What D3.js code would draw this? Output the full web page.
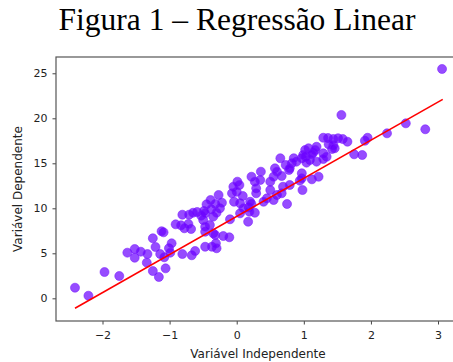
<!DOCTYPE html>
<html>
<head>
<meta charset="utf-8">
<script src="https://cdnjs.cloudflare.com/ajax/libs/d3/7.8.5/d3.min.js"></script>
<style>
	body { margin: 0; background: #fff; }
	svg { display: block; }
</style>
</head>
<body>
<svg></svg>
<script>

// Chart text
var title = 'Figura 1 – Regressão Linear';
var xLabel = 'Variável Independente';
var yLabel = 'Variável Dependente';

// Ticks
var xTicks = [-2, -1, 0, 1, 2, 3];
var yTicks = [0, 5, 10, 15, 20, 25];

// Scatter points
var xVals = [
	-2.41, -2.21, -1.97, -1.75, -1.63, -1.52, -1.52, -1.43, -1.33, -1.34,
	-1.25, -1.16, -1.25, -1.21, -1.09, -1.12, -1.14, -1.08, -1.06, -1.01,
	-0.97, -0.99, -0.91, -0.81, -0.83, -0.78, -0.81, -0.71, -0.68, -0.67,
	-0.62, -0.59, -0.53, -0.47, -0.49, -0.45, -0.39, -0.38, -0.47, -0.37,
	-0.35, -0.40, -0.31, -0.30, -0.20, -0.11, -0.10, -0.32, -0.25, -0.22,
	-0.04, 0.05, 0.05, 0.18, 0.22, 0.27, 0.17, 0.75, -0.65, -0.72,
	-0.50, -0.47, -0.35, -0.27, -0.30, -0.47, -0.32, 0.19, 0.10, 0.01,
	0.04, -0.05, 0.00, -0.07, 0.09, 0.20, 0.22, 0.27, 0.29, 0.29,
	0.36, 0.35, 0.50, 0.55, 0.57, 0.60, 0.67, 0.65, 0.73, 0.82,
	0.89, 0.78, 0.50, 0.60, 0.69, 0.67, 0.79, 0.94, 0.98, 1.12,
	1.22, 0.55, 0.45, 0.40, 0.97, 1.03, 1.07, 1.19, 1.14, 1.09,
	1.19, 1.56, 1.29, 1.36, 1.44, 1.51, 1.58, 1.65, 1.91, 1.95,
	2.24, 2.52, 2.81, 3.06, 1.37, 1.44, 1.42, 1.46, 1.17, 1.02,
	0.99, 1.12, 1.29, 1.34, 1.29, 1.04, 1.75, 1.87, 0.97, 0.97,
	0.85, 0.79
];
var yVals = [
	1.18, 0.29, 2.92, 2.48, 5.07, 5.48, 4.51, 5.18, 4.92, 3.96,
	3.03, 2.37, 6.67, 5.70, 7.33, 7.45, 4.92, 4.56, 3.33, 5.56,
	6.11, 5.07, 8.22, 9.29, 8.11, 7.78, 4.92, 9.29, 7.70, 4.78,
	5.26, 9.59, 9.18, 5.73, 9.70, 10.44, 10.92, 9.89, 7.40, 5.73,
	9.07, 8.14, 6.11, 5.56, 6.92, 6.78, 8.78, 10.48, 10.00, 10.62,
	10.73, 10.56, 9.44, 10.11, 10.48, 9.51, 8.51, 10.48, 9.51, 8.26,
	8.70, 7.96, 7.22, 11.48, 9.51, 9.44, 7.03, 9.62, 10.00, 12.96,
	12.59, 12.40, 11.84, 11.67, 11.37, 10.73, 13.51, 12.96, 12.22, 11.67,
	14.07, 13.14, 12.96, 13.51, 14.44, 14.07, 13.59, 15.56, 14.81, 15.00,
	15.18, 14.26, 12.03, 11.48, 12.40, 11.67, 12.59, 13.07, 12.03, 13.22,
	13.51, 10.92, 11.11, 10.73, 15.56, 15.73, 16.67, 16.84, 16.18, 15.37,
	15.18, 20.37, 17.84, 17.81, 17.70, 17.78, 17.70, 17.40, 17.51, 17.84,
	18.33, 19.44, 18.78, 25.48, 17.11, 17.03, 16.59, 16.67, 16.48, 16.48,
	15.92, 16.00, 16.11, 15.73, 15.48, 15.07, 16.00, 15.92, 13.89, 13.33,
	15.56, 14.44
];

// Fitted regression line, end points
var lineX = [-2.41, 3.07];
var lineY = [-1.1, 22.1];

var W = 453, H = 362;

var svg = d3.select('svg')
	.attr('width', W)
	.attr('height', H);

var x = d3.scaleLinear().domain([-2.693, 3.32]).range([56, 459.5]);
var y = d3.scaleLinear().domain([-2.52, 26.81]).range([321, 57]);

// Title
svg.append('text')
	.attr('x', 237)
	.attr('y', 29.5)
	.attr('text-anchor', 'middle')
	.style('font-family', '"Liberation Serif", "Times New Roman", serif')
	.style('font-size', '31.5px')
	.style('fill', '#000')
	.text(title);

// Axes
var xAxis = svg.append('g')
	.attr('transform', 'translate(0,321)')
	.call(d3.axisBottom(x).tickValues(xTicks).tickSize(3.5).tickPadding(6.5).tickFormat(d3.format('d')));

var yAxis = svg.append('g')
	.attr('transform', 'translate(56,0)')
	.call(d3.axisLeft(y).tickValues(yTicks).tickSize(3.5).tickPadding(5).tickFormat(d3.format('d')));

[xAxis, yAxis].forEach(function(g){
	g.select('.domain').remove();
	g.selectAll('.tick line').attr('stroke', '#444');
	g.selectAll('.tick text')
		.style('font-family', '"DejaVu Sans", sans-serif')
		.style('font-size', '11px')
		.style('fill', '#222');
});

// Frame (right side falls outside the picture)
svg.append('rect')
	.attr('x', 56)
	.attr('y', 57)
	.attr('width', 459.5 - 56)
	.attr('height', 321 - 57)
	.attr('fill', 'none')
	.attr('stroke', '#555')
	.attr('stroke-width', 1.2);

// Points
var pts = xVals.map(function(d, i){ return [d, yVals[i]] });

svg.append('g').selectAll('circle')
	.data(pts)
	.enter()
	.append('circle')
		.attr('cx', function(d){ return x(d[0]) })
		.attr('cy', function(d){ return y(d[1]) })
		.attr('r', 4.5)
		.style('fill', '#6a00ff')
		.style('fill-opacity', 0.7)
		.style('stroke', '#7a1cff')
		.style('stroke-opacity', 0.55)
		.style('stroke-width', 1);

// Regression line
svg.append('line')
	.attr('x1', x(lineX[0]))
	.attr('y1', y(lineY[0]))
	.attr('x2', x(lineX[1]))
	.attr('y2', y(lineY[1]))
	.attr('stroke', '#ff0000')
	.attr('stroke-width', 1.6);

// Axis labels
svg.append('text')
	.attr('x', 258)
	.attr('y', 358)
	.attr('text-anchor', 'middle')
	.style('font-family', '"DejaVu Sans", sans-serif')
	.style('font-size', '12px')
	.style('fill', '#222')
	.text(xLabel);

svg.append('text')
	.attr('transform', 'translate(22,189) rotate(-90)')
	.attr('text-anchor', 'middle')
	.style('font-family', '"DejaVu Sans", sans-serif')
	.style('font-size', '12px')
	.style('fill', '#222')
	.text(yLabel);

</script>
</body>
</html>
